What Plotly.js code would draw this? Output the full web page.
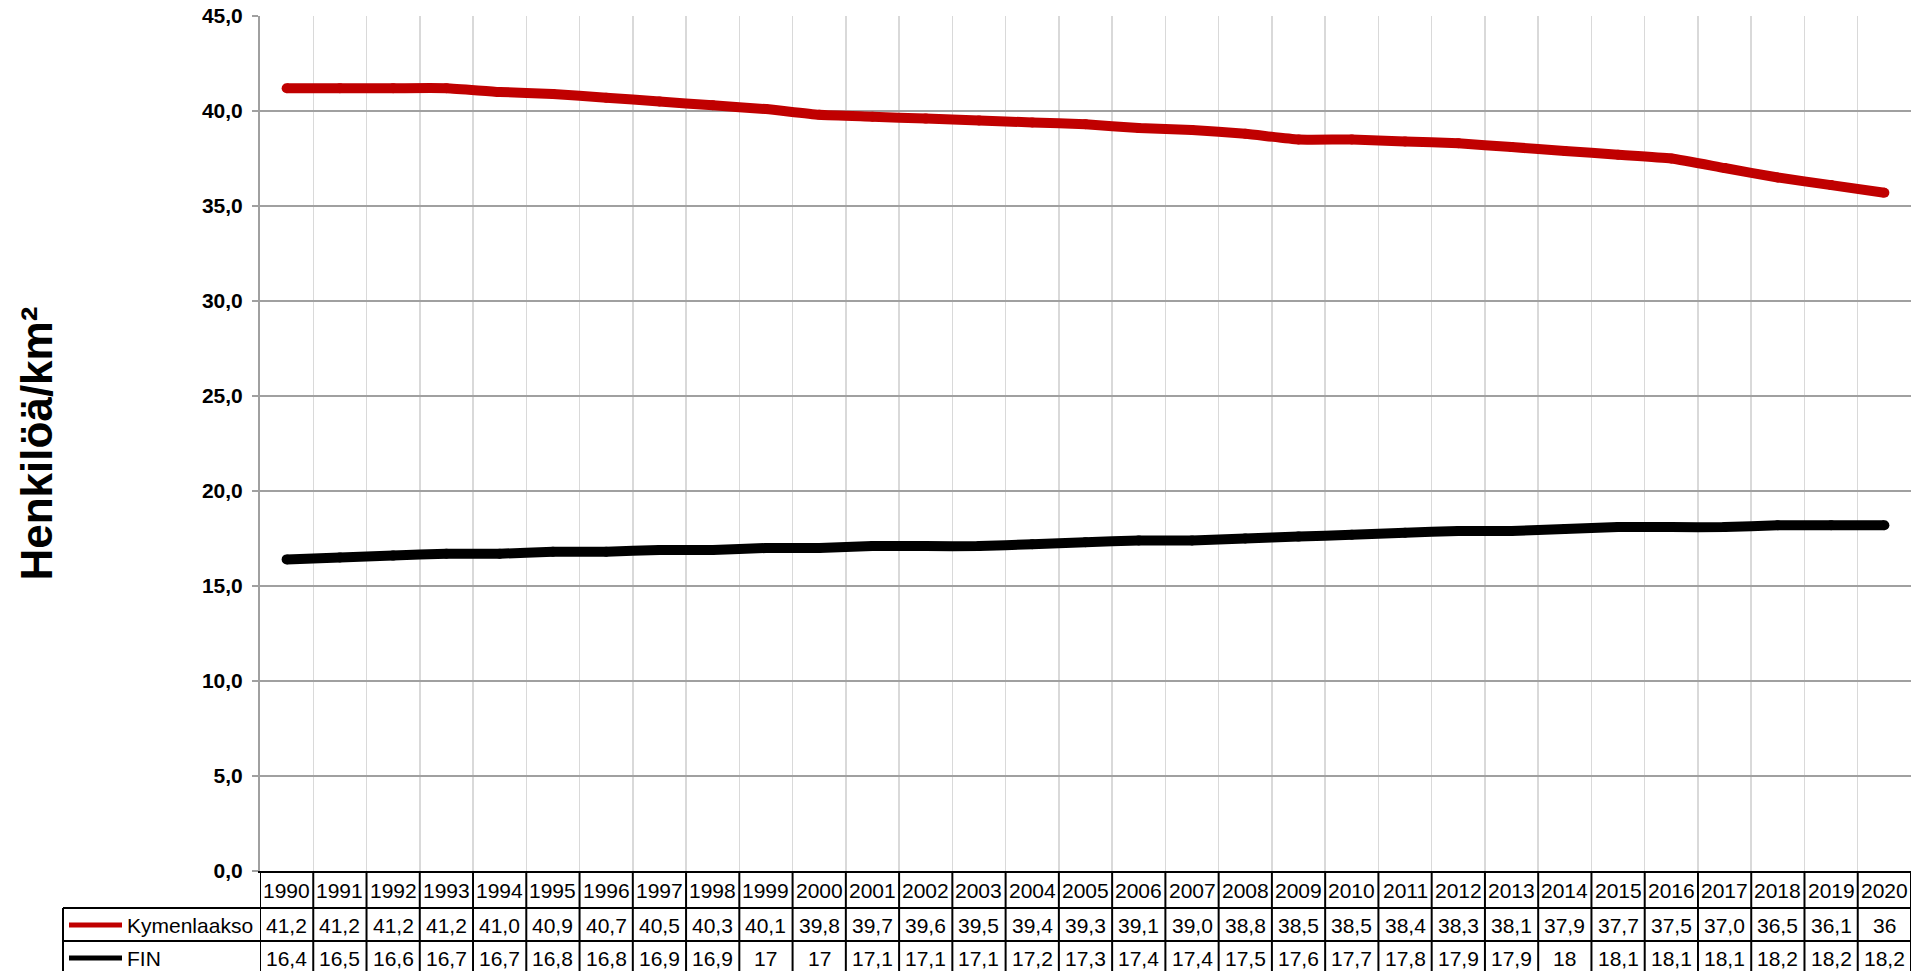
<!DOCTYPE html>
<html>
<head>
<meta charset="utf-8">
<script src="https://cdn.plot.ly/plotly-3.0.1.min.js"></script>
<style>
html,body{margin:0;padding:0;background:#fff;overflow:hidden}
#chart{width:1911px;height:971px}
</style>
</head>
<body>
<div id="chart"></div>
<script>
// ---- data ----
const years = ['1990','1991','1992','1993','1994','1995','1996','1997','1998','1999','2000','2001','2002','2003','2004','2005','2006','2007','2008','2009','2010','2011','2012','2013','2014','2015','2016','2017','2018','2019','2020'];
const seriesNames = ['Kymenlaakso', 'FIN'];
const kymenValues = [41.2,41.2,41.2,41.2,41.0,40.9,40.7,40.5,40.3,40.1,39.8,39.7,39.6,39.5,39.4,39.3,39.1,39.0,38.8,38.5,38.5,38.4,38.3,38.1,37.9,37.7,37.5,37.0,36.5,36.1,35.7];
const finValues = [16.4,16.5,16.6,16.7,16.7,16.8,16.8,16.9,16.9,17.0,17.0,17.1,17.1,17.1,17.2,17.3,17.4,17.4,17.5,17.6,17.7,17.8,17.9,17.9,18.0,18.1,18.1,18.1,18.2,18.2,18.2];
const kymenTable = ['41,2','41,2','41,2','41,2','41,0','40,9','40,7','40,5','40,3','40,1','39,8','39,7','39,6','39,5','39,4','39,3','39,1','39,0','38,8','38,5','38,5','38,4','38,3','38,1','37,9','37,7','37,5','37,0','36,5','36,1','36'];
const finTable = ['16,4','16,5','16,6','16,7','16,7','16,8','16,8','16,9','16,9','17','17','17,1','17,1','17,1','17,2','17,3','17,4','17,4','17,5','17,6','17,7','17,8','17,9','17,9','18','18,1','18,1','18,1','18,2','18,2','18,2'];
const yTickValues = [0,5,10,15,20,25,30,35,40,45];
const yTitle = 'Henkilöä/km²';

// ---- layout helpers (pixel -> paper) ----
const W = 1911, H = 971;
const M = {l: 260, r: 0, t: 16, b: 100};
const PW = W - M.l - M.r, PH = H - M.t - M.b;
const xp = X => (X - M.l) / PW;
const yp = Y => (H - M.b - Y) / PH;

const FONT = 'Liberation Sans, Arial, sans-serif';
const colors = ['#c00000', '#000000'];

const traces = [kymenValues, finValues].map((vals, i) => ({
  type: 'scatter',
  mode: 'lines+markers',
  x: years,
  y: vals,
  name: seriesNames[i],
  line: {color: colors[i], width: 10, shape: 'spline', smoothing: 0.5},
  marker: {color: colors[i], size: 10},
  hoverinfo: 'skip',
  showlegend: false
}));

const shapes = [];
const annotations = [];
const tableBottom = yp(976);
const rowHeaderY = yp(890.5), rowKymY = yp(925), rowFinY = yp(958);

// vertical table lines at category boundaries
for (let k = 0; k <= years.length; k++) {
  shapes.push({type: 'line', xref: 'x', yref: 'paper', x0: k - 0.5, x1: k - 0.5, y0: 0, y1: tableBottom,
    line: {color: '#000', width: 2}});
}
// legend column left border and horizontal row lines
shapes.push({type: 'line', xref: 'paper', yref: 'paper', x0: xp(63), x1: xp(63), y0: yp(908), y1: tableBottom, line: {color: '#000', width: 2}});
[908, 941].forEach(Y => shapes.push({type: 'line', xref: 'paper', yref: 'paper', x0: xp(63), x1: 1, y0: yp(Y), y1: yp(Y), line: {color: '#000', width: 2}}));
// legend keys
[rowKymY, rowFinY].forEach((y, i) => shapes.push({type: 'line', xref: 'paper', yref: 'paper', x0: xp(69), x1: xp(122), y0: y, y1: y, line: {color: colors[i], width: 5}}));

const cellFont = {family: FONT, size: 21, color: '#000'};
years.forEach((yr, i) => {
  annotations.push({xref: 'x', yref: 'paper', x: i, y: rowHeaderY, text: yr, showarrow: false, xanchor: 'center', yanchor: 'middle', font: cellFont});
  annotations.push({xref: 'x', yref: 'paper', x: i, y: rowKymY, text: kymenTable[i], showarrow: false, xanchor: 'center', yanchor: 'middle', font: cellFont});
  annotations.push({xref: 'x', yref: 'paper', x: i, y: rowFinY, text: finTable[i], showarrow: false, xanchor: 'center', yanchor: 'middle', font: cellFont});
});
seriesNames.forEach((n, i) => {
  annotations.push({xref: 'paper', yref: 'paper', x: xp(125), y: [rowKymY, rowFinY][i], text: n, showarrow: false, xanchor: 'left', yanchor: 'middle', font: cellFont});
});
annotations.push({xref: 'paper', yref: 'paper', x: xp(36), y: 0.5, text: yTitle, textangle: -90, showarrow: false,
  xanchor: 'center', yanchor: 'middle', font: {family: FONT, size: 44, color: '#000', weight: 'bold'}});

const layout = {
  width: W, height: H,
  margin: {l: M.l, r: M.r, t: M.t, b: M.b, pad: 0},
  paper_bgcolor: '#fff', plot_bgcolor: '#fff',
  separators: ',.',
  showlegend: false,
  xaxis: {
    type: 'category',
    range: [-0.5, years.length - 0.5],
    tickson: 'boundaries',
    showticklabels: false,
    ticks: '',
    showgrid: true, gridcolor: '#d9d9d9', gridwidth: 1.5,
    showline: true, linecolor: '#000', linewidth: 2,
    zeroline: false, fixedrange: true
  },
  yaxis: {
    range: [0, 45],
    tickvals: yTickValues,
    tickformat: '.1f',
    ticks: 'outside', ticklen: 6, tickwidth: 2, tickcolor: '#a0a0a0',
    ticklabelstandoff: 5,
    tickfont: {family: FONT, size: 21, color: '#000', weight: 'bold'},
    showgrid: true, gridcolor: '#a0a0a0', gridwidth: 2,
    showline: true, linecolor: '#a0a0a0', linewidth: 2,
    zeroline: false, fixedrange: true
  },
  shapes: shapes,
  annotations: annotations
};

Plotly.newPlot('chart', traces, layout, {staticPlot: true, displayModeBar: false});
</script>
</body>
</html>
